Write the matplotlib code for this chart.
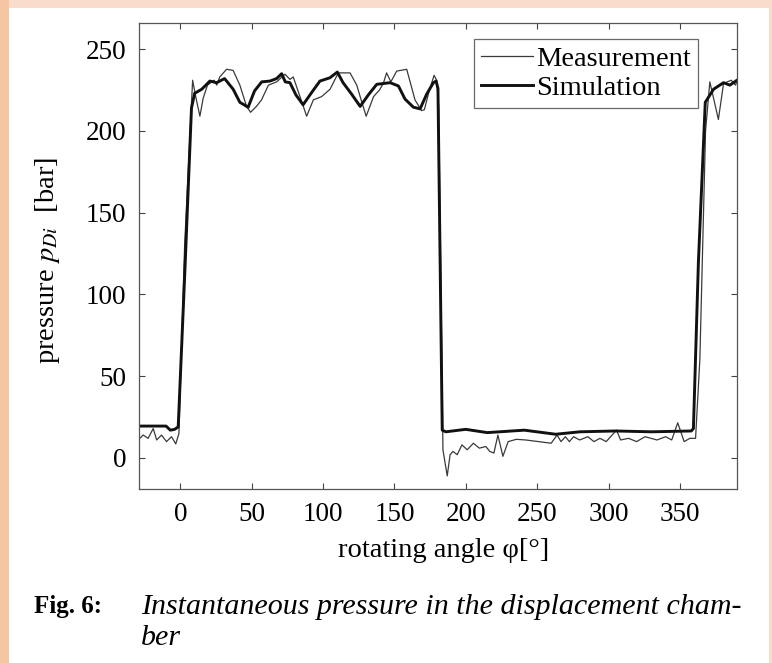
#!/usr/bin/env python3

"""
pressure in the displacement chamber: measurement vs simulation over one revolution
"""

import matplotlib
matplotlib.use("Agg")
import matplotlib.pyplot as plt
from matplotlib.patches import Rectangle

# simulated pressure [bar] vs rotating angle [deg]
sim_angle = [-29, -10, -7, -4, -1.5, 3.2, 7.8, 10, 15, 20.7, 25.4, 31, 37, 41.7,
             47.5, 52, 57, 62.8, 67.4, 71, 73.5, 76.8, 81, 86, 92, 97.8, 104.8,
             110, 114, 120, 126, 131.7, 137.6, 147, 152.8, 157.4, 163.3, 168,
             172.6, 177.3, 179.2, 180.5, 183.5, 186, 200, 215, 241, 263, 280,
             305, 330, 358, 359.5, 363, 367.8, 373.6, 380.6, 385, 390]
sim_p = [19.5, 19.5, 17, 17.5, 19, 115, 214, 223, 225.5, 230.5, 229.5, 232,
         225.5, 217.5, 214.5, 224.5, 230, 230.5, 232, 235, 230, 229.5, 222, 216,
         223.5, 230.5, 232.5, 236, 229.5, 222.5, 215, 222, 228.5, 229.5, 227.5,
         219.5, 214.5, 213.5, 222.5, 229.5, 230.5, 226, 17, 16, 17.5, 15.5, 17,
         14.5, 16, 16.5, 16, 16.5, 18, 120, 217.5, 225.5, 229.5, 228, 231]

# measured pressure [bar]
meas_angle = [-29.6, -26, -22.6, -19, -16.6, -13.2, -9.7, -6.2, -3.2, -1, 3,
              8.6, 11, 13.7, 16, 19, 23.6, 25.5, 27.6, 32.4, 37, 41.7, 46.4,
              49.2, 53.3, 56.9, 61.7, 67.5, 73.3, 76.8, 79.1, 85, 88.5, 93.2,
              99, 104.9, 107.5, 110.7, 118.9, 123.6, 127, 130.2, 135.4, 139.5,
              142.2, 144.5, 147.5, 151.6, 158.6, 161, 164.4, 169, 171, 174.5,
              177.8, 179.6, 181, 184, 187, 189, 191, 194, 197.3, 201, 205.3,
              209.5, 214, 216.8, 219.7, 222.5, 226, 229.7, 235.4, 242, 251,
              259.8, 264, 266.7, 269.8, 272.6, 275.5, 279.8, 285.5, 289.8, 294,
              298.4, 305.6, 308.5, 314, 319.7, 325.6, 334, 340, 344.3, 348.5,
              353, 357, 361, 364, 368, 371, 377, 380.6, 386, 389, 391]
meas_p = [11, 14, 12, 18, 11, 14, 10, 13, 8.6, 15, 130, 231, 220, 209, 220,
          228, 231, 228, 233, 237.7, 237, 228, 215, 211.4, 215, 219, 228, 230,
          234.7, 231.5, 233, 218, 209, 219, 221, 225.5, 230, 235.5, 235.5, 228,
          218, 209, 221, 225, 229, 235.5, 230, 236.6, 237.7, 230, 219, 212.4,
          213, 225, 234, 231, 215, 5, -11, 2, 4, 2, 8, 5, 9, 6, 7, 4, 3, 14, 1,
          10, 11.4, 11, 10, 9, 14, 10, 13, 10, 13, 11, 13, 10, 12, 10, 17, 11,
          12, 10, 13, 11, 13, 11, 21.5, 10, 12, 12, 60, 200, 230, 207, 229,
          231, 228, 233]

x_ticks = [0, 50, 100, 150, 200, 250, 300, 350]
y_ticks = [0, 50, 100, 150, 200, 250]

plt.rcParams["font.family"] = ["Liberation Serif", "DejaVu Serif"]
plt.rcParams["mathtext.fontset"] = "stix"

fig = plt.figure(figsize=(7.72, 6.63), dpi=100)
fig.patch.set_facecolor("white")

# peach page border of the scan
fig.patches.append(Rectangle((0, 1 - 8 / 663), 1, 8 / 663, transform=fig.transFigure,
                             facecolor="#f9dcc9", edgecolor="none", zorder=0))
fig.patches.append(Rectangle((0, 0), 9 / 772, 1, transform=fig.transFigure,
                             facecolor="#f6c5a4", edgecolor="none", zorder=0))
fig.patches.append(Rectangle((1 - 3 / 772, 0), 3 / 772, 1, transform=fig.transFigure,
                             facecolor="#f9dcc9", edgecolor="none", zorder=0))

ax = fig.add_axes([0.180, 0.2624, 0.7746, 0.7029])
ax.plot(meas_angle, meas_p, color="#3a3a3a", lw=0.9, label="Measurement")
ax.plot(sim_angle, sim_p, color="#111111", lw=2.1, label="Simulation")

ax.set_xlim(-29, 390)
ax.set_ylim(-19, 266)
ax.set_xticks(x_ticks)
ax.set_yticks(y_ticks)
ax.tick_params(direction="in", length=4, width=0.8, top=True, right=True,
               labelsize=19.5, color="#444444", pad=9)
for s in ax.spines.values():
    s.set_color("#555555")
    s.set_linewidth(0.9)

ax.set_xlabel("rotating angle φ[°]", fontsize=20.5)
ax.xaxis.set_label_coords(0.51, -0.105)
ax.set_ylabel(r"pressure $p_{Di}$  [bar]", fontsize=20.5)
ax.yaxis.set_label_coords(-0.128, 0.49)

leg = ax.legend(loc="upper right", bbox_to_anchor=(0.935, 0.966), borderaxespad=0,
                fontsize=20.5, frameon=True, fancybox=False, handlelength=1.85,
                handletextpad=0.1, labelspacing=0.1, borderpad=0.25)
leg.get_frame().set_edgecolor("#444444")
leg.get_frame().set_linewidth(0.9)

# caption under the plot
fig.text(34 / 772, 1 - 607 / 663, "Fig. 6:", fontsize=18, fontweight="bold", va="center")
fig.text(141 / 772, 1 - 607 / 663, "Instantaneous pressure in the displacement cham-",
         fontsize=21.6, style="italic", va="center")
fig.text(141 / 772, 1 - 638 / 663, "ber", fontsize=21.6, style="italic", va="center")

fig.savefig("out.png", dpi=100)
